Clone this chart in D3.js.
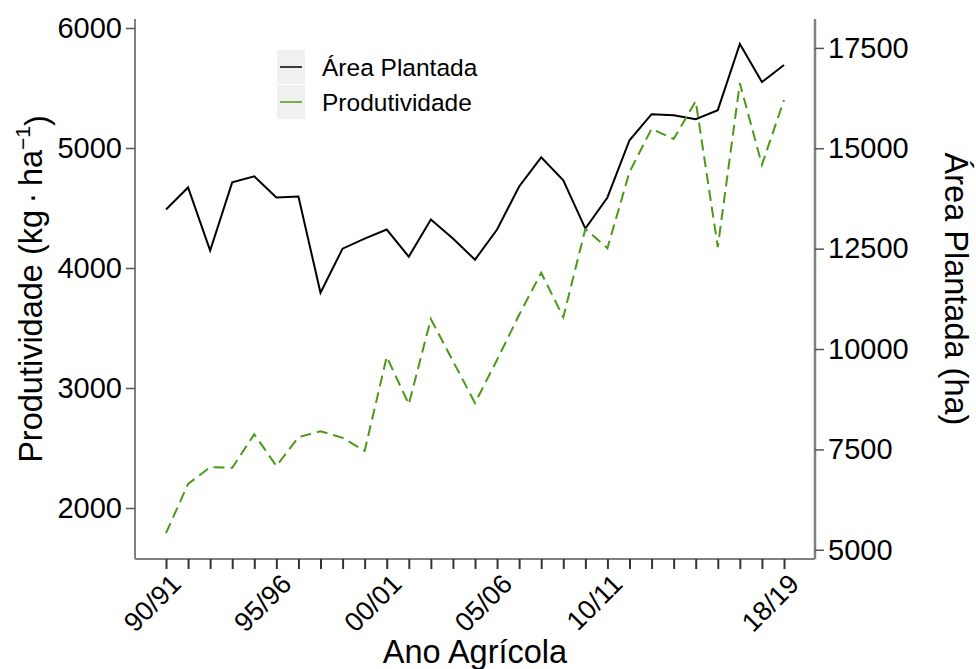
<!DOCTYPE html>
<html>
<head>
<meta charset="utf-8">
<script src="https://cdn.jsdelivr.net/npm/d3@7"></script>
<style>
  body { margin: 0; background: #fff; }
  svg text { font-family: "Liberation Sans", Arial, sans-serif; fill: #000; }
</style>
</head>
<body>
<div id="chart"></div>
<script>
// safras (ano agrícola)
const seasons = ["90/91","91/92","92/93","93/94","94/95","95/96","96/97","97/98","98/99","99/00",
  "00/01","01/02","02/03","03/04","04/05","05/06","06/07","07/08","08/09","09/10",
  "10/11","11/12","12/13","13/14","14/15","15/16","16/17","17/18","18/19"];
const shownLabels = ["90/91","95/96","00/01","05/06","10/11","18/19"];

// área plantada (ha) - eixo direito
const area = [13475,14025,12450,14150,14300,13775,13800,11400,12500,12750,
  12975,12300,13225,12750,12225,12975,14050,14775,14200,13000,
  13775,15200,15850,15825,15725,15950,17600,16650,17075];

// produtividade (kg/ha) - eixo esquerdo
const produtividade = [1790,2200,2340,2335,2615,2350,2590,2640,2585,2475,
  3260,2865,3575,3225,2875,3235,3610,3960,3590,4325,
  4165,4800,5160,5075,5390,4175,5540,4860,5400];

const leftTicks = [2000,3000,4000,5000,6000];
const rightTicks = [5000,7500,10000,12500,15000,17500];

const width = 976, height = 669;
const plotL = 135, plotR = 815, plotT = 19, plotB = 559;
const green = "#4a9a17";

const svg = d3.select("#chart").append("svg")
  .attr("width", width).attr("height", height);

const x = d3.scalePoint().domain(seasons).range([166, 784]);
const yL = d3.scaleLinear().domain([1575, 6075]).range([plotB, plotT]);
const yR = d3.scaleLinear().domain([4770, 18220]).range([plotB, plotT]);

// eixo x
const gx = svg.append("g").attr("transform", `translate(0,${plotB})`)
  .call(d3.axisBottom(x).tickSize(10).tickFormat(""));
gx.select(".domain").attr("d", `M${plotL},0H${plotR}`).attr("stroke", "#808080").attr("stroke-width", 2);
gx.selectAll(".tick line").attr("stroke", "#333").attr("stroke-width", 2);

svg.append("g").selectAll("text")
  .data(shownLabels)
  .enter()
  .append("text")
  .attr("transform", d => `translate(${x(d) + 10},${plotB + 20}) rotate(-45)`)
  .attr("text-anchor", "end")
  .attr("dy", "0.35em")
  .style("font-size", "27px")
  .text(d => d);

// eixo esquerdo
const gl = svg.append("g").attr("transform", `translate(${plotL},0)`)
  .call(d3.axisLeft(yL).tickValues(leftTicks).tickSize(9).tickPadding(4).tickFormat(d3.format("d")));
gl.select(".domain").attr("d", `M0,${plotT}V${plotB}`).attr("stroke", "#808080").attr("stroke-width", 2);
gl.selectAll(".tick line").attr("stroke", "#555").attr("stroke-width", 1.5);
gl.selectAll(".tick text").style("font-size", "29px").attr("fill", "#000");

// eixo direito
const gr = svg.append("g").attr("transform", `translate(${plotR},0)`)
  .call(d3.axisRight(yR).tickValues(rightTicks).tickSize(9).tickPadding(4).tickFormat(d3.format("d")));
gr.select(".domain").attr("d", `M0,${plotT}V${plotB}`).attr("stroke", "#808080").attr("stroke-width", 2.5);
gr.selectAll(".tick line").attr("stroke", "#555").attr("stroke-width", 1.5);
gr.selectAll(".tick text").style("font-size", "29px").attr("fill", "#000");

// linhas
svg.append("path")
  .datum(seasons.map((s, i) => [s, area[i]]))
  .attr("fill", "none")
  .attr("stroke", "#000")
  .attr("stroke-width", 2)
  .attr("d", d3.line().x(d => x(d[0])).y(d => yR(d[1])));

svg.append("path")
  .datum(seasons.map((s, i) => [s, produtividade[i]]))
  .attr("fill", "none")
  .attr("stroke", green)
  .attr("stroke-width", 2)
  .attr("stroke-dasharray", "11,6")
  .attr("d", d3.line().x(d => x(d[0])).y(d => yL(d[1])));

// legenda
const legend = [
  { label: "Área Plantada", color: "#000" },
  { label: "Produtividade", color: green }
];
const lg = svg.append("g").attr("transform", "translate(277,50)");
legend.forEach((d, i) => {
  const row = lg.append("g").attr("transform", `translate(0,${i * 35})`);
  row.append("rect").attr("width", 28).attr("height", 34).attr("fill", "#f0f0f0");
  row.append("line").attr("x1", 3).attr("x2", 25).attr("y1", 17).attr("y2", 17)
    .attr("stroke", d.color).attr("stroke-width", 1.5);
  row.append("text").attr("x", 45).attr("y", 17).attr("dy", "0.35em")
    .style("font-size", "24.5px").text(d.label);
});

// títulos
svg.append("text")
  .attr("x", (plotL + plotR) / 2).attr("y", 663)
  .attr("text-anchor", "middle")
  .style("font-size", "32.5px")
  .text("Ano Agrícola");

const lt = svg.append("text")
  .attr("transform", `translate(42,${(plotT + plotB) / 2}) rotate(-90)`)
  .attr("text-anchor", "middle")
  .style("font-size", "32.5px");
lt.append("tspan").text("Produtividade (kg\u2009·\u2009ha");
lt.append("tspan").attr("dy", "-0.55em").style("font-size", "21px").text("\u22121");
lt.append("tspan").attr("dy", "0.55em").text(")");

svg.append("text")
  .attr("transform", `translate(945,${(plotT + plotB) / 2}) rotate(90)`)
  .attr("text-anchor", "middle")
  .style("font-size", "32.5px")
  .text("Área Plantada (ha)");
</script>
</body>
</html>
